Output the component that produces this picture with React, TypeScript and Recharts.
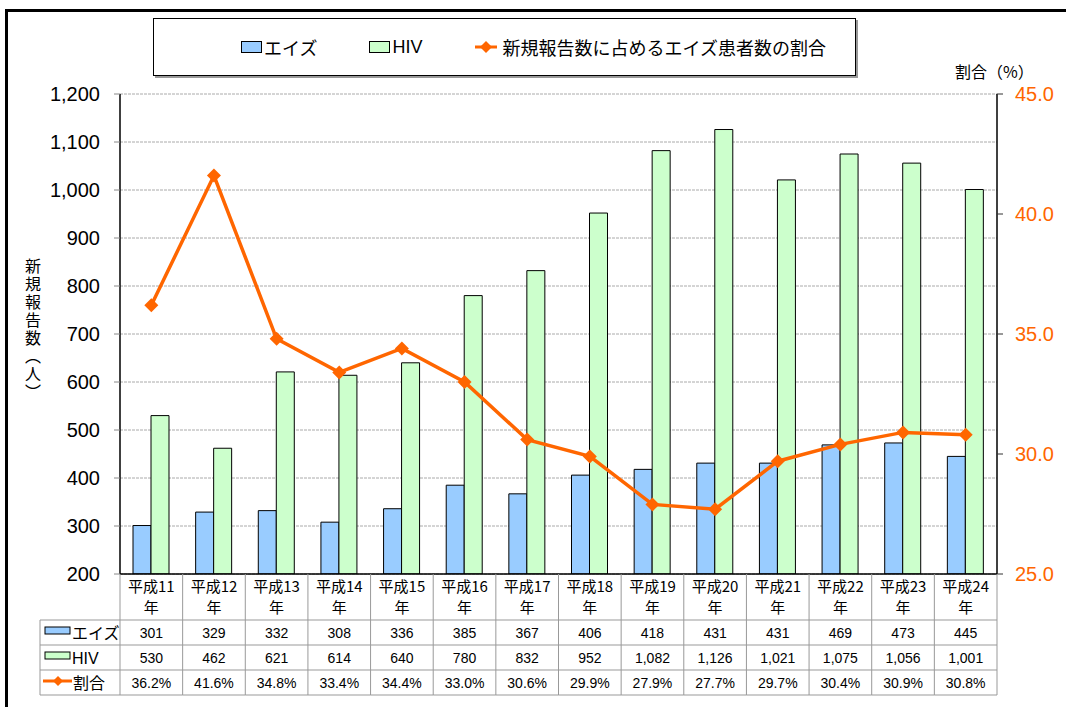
import React from 'react';
import { ComposedChart, Bar, Line, XAxis, YAxis, CartesianGrid } from 'recharts';

const categories = ['平成11', '平成12', '平成13', '平成14', '平成15', '平成16', '平成17', '平成18', '平成19', '平成20', '平成21', '平成22', '平成23', '平成24'];
const aidsCounts = [301, 329, 332, 308, 336, 385, 367, 406, 418, 431, 431, 469, 473, 445];
const hivCounts = [530, 462, 621, 614, 640, 780, 832, 952, 1082, 1126, 1021, 1075, 1056, 1001];
const aidsRatio = [36.2, 41.6, 34.8, 33.4, 34.4, 33.0, 30.6, 29.9, 27.9, 27.7, 29.7, 30.4, 30.9, 30.8];
const countTicks = [200, 300, 400, 500, 600, 700, 800, 900, 1000, 1100, 1200];
const ratioTicks = [25, 30, 35, 40, 45];

const data = categories.map((name, i) => ({
  name,
  aids: aidsCounts[i],
  hiv: hivCounts[i],
  ratio: aidsRatio[i],
}));

const W = 1066;
const H = 707;
const PLOT_LEFT = 120;
const PLOT_RIGHT = 997;
const PLOT_TOP = 94;
const TABLE_TOP = 574;
const X_AXIS_H = 121;
const COL_W = (PLOT_RIGHT - PLOT_LEFT) / categories.length;
const ROW_Y = [620, 645, 670, 695];

const BLUE = '#99CCFF';
const GREEN = '#CCFFCC';
const ORANGE = '#FF6600';
const GRID = '#999';
const FONT = '"Liberation Sans", "Noto Sans CJK JP", sans-serif';
const JP = '"Noto Sans CJK JP", "Liberation Sans", sans-serif';

const fmt = (v: number) => v.toLocaleString('en-US');

function Diamond({ cx, cy, r = 7 }: { cx: number; cy: number; r?: number }) {
  return <polygon points={`${cx},${cy - r} ${cx + r},${cy} ${cx},${cy + r} ${cx - r},${cy}`} fill={ORANGE} />;
}

function TableTick(props: any) {
  const { x, payload } = props;
  const i = categories.indexOf(payload.value);
  const left = x - COL_W / 2;
  const right = x + COL_W / 2;
  const cells = [fmt(aidsCounts[i]), fmt(hivCounts[i]), aidsRatio[i].toFixed(1) + '%'];
  return (
    <g>
      <text x={x} y={TABLE_TOP + 18} textAnchor="middle" fontSize={15} fontFamily={JP} fill="#000">{payload.value}</text>
      <text x={x} y={TABLE_TOP + 39} textAnchor="middle" fontSize={15} fontFamily={JP} fill="#000">年</text>
      {cells.map((c, k) => (
        <text key={k} x={x} y={ROW_Y[k] + 18} textAnchor="middle" fontSize={14} fontFamily={FONT} fill="#000">{c}</text>
      ))}
      {ROW_Y.map((yy) => (
        <line key={yy} x1={left} x2={right} y1={yy} y2={yy} stroke={GRID} strokeWidth={1} />
      ))}
      <line x1={right} x2={right} y1={TABLE_TOP} y2={ROW_Y[3]} stroke={GRID} strokeWidth={1} />
      {i === 0 && (
        <g>
          <line x1={left} x2={left} y1={TABLE_TOP} y2={ROW_Y[3]} stroke={GRID} strokeWidth={1} />
          <line x1={40} x2={40} y1={ROW_Y[0]} y2={ROW_Y[3]} stroke={GRID} strokeWidth={1} />
          {ROW_Y.map((yy) => (
            <line key={yy} x1={40} x2={left} y1={yy} y2={yy} stroke={GRID} strokeWidth={1} />
          ))}
          <rect x={45} y={ROW_Y[0] + 7} width={25} height={7} fill={BLUE} stroke="#000" />
          <text x={72} y={ROW_Y[0] + 19} fontSize={16} fontFamily={JP} fill="#000">エイズ</text>
          <rect x={45} y={ROW_Y[1] + 7} width={25} height={7} fill={GREEN} stroke="#000" />
          <text x={72} y={ROW_Y[1] + 19} fontSize={16} fontFamily={FONT} fill="#000">HIV</text>
          <line x1={43} x2={72} y1={ROW_Y[2] + 11} y2={ROW_Y[2] + 11} stroke={ORANGE} strokeWidth={3} />
          <Diamond cx={58} cy={ROW_Y[2] + 11} r={5} />
          <text x={73} y={ROW_Y[2] + 19} fontSize={16} fontFamily={JP} fill="#000">割合</text>
        </g>
      )}
    </g>
  );
}

function LegendBox() {
  const item: React.CSSProperties = { display: 'flex', alignItems: 'center', marginRight: 52 };
  const swatch = (c: string): React.CSSProperties => ({ width: 19, height: 10, background: c, border: '1px solid #000', marginRight: 2 });
  return (
    <div style={{ position: 'absolute', left: 153, top: 18, width: 703, height: 58, border: '1px solid #000', boxShadow: '2px 2px 0 #999', background: '#fff', display: 'flex', alignItems: 'center', fontFamily: JP, fontSize: 18, color: '#000', boxSizing: 'border-box', paddingLeft: 87 }}>
      <div style={item}><span style={swatch(BLUE)} />エイズ</div>
      <div style={item}><span style={swatch(GREEN)} /><span style={{ fontFamily: FONT }}>HIV</span></div>
      <div style={{ display: 'flex', alignItems: 'center' }}>
        <svg width={24} height={14} style={{ marginRight: 4 }}>
          <line x1={1} x2={23} y1={7} y2={7} stroke={ORANGE} strokeWidth={3} />
          <polygon points="12,1 18,7 12,13 6,7" fill={ORANGE} />
        </svg>
        新規報告数に占めるエイズ患者数の割合
      </div>
    </div>
  );
}

const yTitle = '新規報告数（人）';

export default function App() {
  return (
    <div style={{ position: 'absolute', left: 0, top: 0, width: W, height: H, overflow: 'hidden', background: '#fff' }}>
      <div style={{ position: 'absolute', left: 5, top: 9, width: W + 20, height: H + 20, border: '3px solid #000' }} />
      <LegendBox />
      <div style={{ position: 'absolute', left: 955, top: 63, fontFamily: JP, fontSize: 16, lineHeight: 1, color: '#000' }}>割合（%）</div>
      <div style={{ position: 'absolute', left: 24, top: 258, width: 18, fontFamily: '"Noto Sans CJK JP", sans-serif', fontSize: 16, color: '#000', writingMode: 'vertical-rl', lineHeight: '18px', letterSpacing: 2 }}>{yTitle}</div>
      <ComposedChart
        width={W}
        height={H}
        data={data}
        margin={{ top: PLOT_TOP, right: 0, bottom: H - TABLE_TOP - X_AXIS_H, left: 40 }}
        barGap={0}
        style={{ position: 'absolute', left: 0, top: 0 }}
      >
        <CartesianGrid vertical={false} stroke="#aaa" strokeDasharray="3 1" yAxisId="left" />
        <XAxis
          dataKey="name"
          height={X_AXIS_H}
          axisLine={{ stroke: '#000', strokeWidth: 1.5 }}
          tickLine={false}
          tick={<TableTick />}
          interval={0}
        />
        <YAxis
          yAxisId="left"
          width={80}
          domain={[200, 1200]}
          ticks={countTicks}
          tickFormatter={fmt}
          axisLine={{ stroke: '#000', strokeWidth: 1.5 }}
          tickLine={{ stroke: '#888' }}
          tickSize={6}
          tickMargin={14}
          tick={{ fontSize: 20, fontFamily: FONT, fill: '#000' }}
          allowDataOverflow
        />
        <YAxis
          yAxisId="right"
          orientation="right"
          width={69}
          domain={[25, 45]}
          ticks={ratioTicks}
          tickFormatter={(v: number) => v.toFixed(1)}
          axisLine={{ stroke: '#000', strokeWidth: 1.5 }}
          tickLine={{ stroke: '#333' }}
          tickSize={6}
          tickMargin={12}
          tick={{ fontSize: 20, fontFamily: FONT, fill: ORANGE }}
        />
        <Bar yAxisId="left" dataKey="aids" fill={BLUE} stroke="#000" strokeWidth={1} barSize={18} isAnimationActive={false} />
        <Bar yAxisId="left" dataKey="hiv" fill={GREEN} stroke="#000" strokeWidth={1} barSize={18} isAnimationActive={false} />
        <Line
          yAxisId="right"
          dataKey="ratio"
          stroke={ORANGE}
          strokeWidth={3.5}
          dot={(p: any) => <Diamond key={p.index} cx={p.cx} cy={p.cy} />}
          activeDot={false}
          isAnimationActive={false}
        />
      </ComposedChart>
    </div>
  );
}
